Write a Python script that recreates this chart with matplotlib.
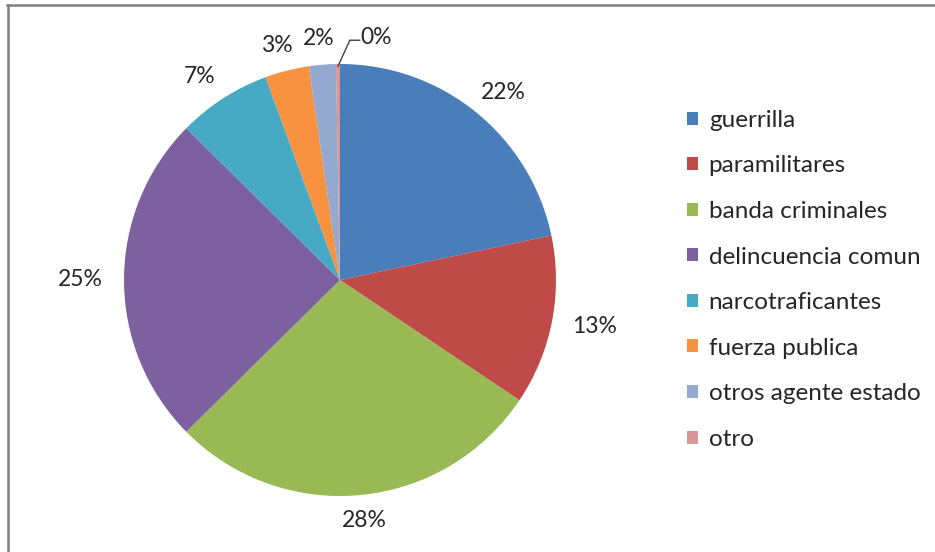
import numpy as np
import matplotlib.pyplot as plt
from matplotlib.lines import Line2D

# datos
categorias = ['guerrilla', 'paramilitares', 'banda criminales', 'delincuencia comun',
              'narcotraficantes', 'fuerza publica', 'otros agente estado', 'otro']
valores = [21.7, 12.7, 28.2, 24.8, 7.0, 3.3, 2.0, 0.3]
colores = ['#4A7EBB', '#BE4B48', '#98B954', '#7D60A0', '#46AAC5', '#F69240', '#93A9CF', '#D99694']

plt.rcParams['font.family'] = ['Lato', 'DejaVu Sans']

W, H = 935, 552
fig = plt.figure(figsize=(W / 100, H / 100), dpi=100)
fig.patch.set_facecolor('white')

# pie: centro (340, 280), radio 216 px
cx, cy, r = 340, 280, 216
ax = fig.add_axes([(cx - r) / W, (H - cy - r) / H, 2 * r / W, 2 * r / H])
wedges, _ = ax.pie(valores, colors=colores, startangle=90, counterclock=False,
                   radius=1, wedgeprops=dict(linewidth=0))
ax.set_xlim(-1, 1)
ax.set_ylim(-1, 1)
ax.set_aspect('equal')
ax.axis('off')

# etiquetas de porcentaje
total = sum(valores)
for i, w in enumerate(wedges):
    ang = np.deg2rad((w.theta1 + w.theta2) / 2)
    ux, uy = np.cos(ang), np.sin(ang)
    txt = '%d%%' % round(valores[i] / total * 100)
    if i == len(wedges) - 1:
        # la porcion mas pequena lleva linea guia
        x0, y0 = ux * 0.99, uy * 0.99
        ax.plot([x0, x0 + 0.055, x0 + 0.10], [y0, 1.11, 1.11], color='#404040',
                lw=1, clip_on=False)
        ax.text(x0 + 0.105, 1.125, txt, ha='left', va='center', fontsize=16.5,
                color='#262626')
        continue
    px = ux * 1.08 + ux * 0.12
    py = uy * 1.08 + uy * 0.04
    ax.text(px, py, txt, ha='center', va='center', fontsize=16.5, color='#262626')

fig.legend(wedges, categorias, loc='upper left', bbox_to_anchor=(665 / W, 1 - 88 / H),
           frameon=False, fontsize=17.5, handlelength=0.45, handleheight=0.45,
           handletextpad=0.45, labelspacing=1.01, labelcolor='#262626')

# borde gris arriba e izquierda
fig.add_artist(Line2D([7 / W, 1], [1 - 5 / H, 1 - 5 / H], color='#808080', lw=1.8,
                      transform=fig.transFigure))
fig.add_artist(Line2D([8 / W, 8 / W], [0, 1 - 5 / H], color='#808080', lw=1.8,
                      transform=fig.transFigure))

fig.savefig('out.png', dpi=100)
